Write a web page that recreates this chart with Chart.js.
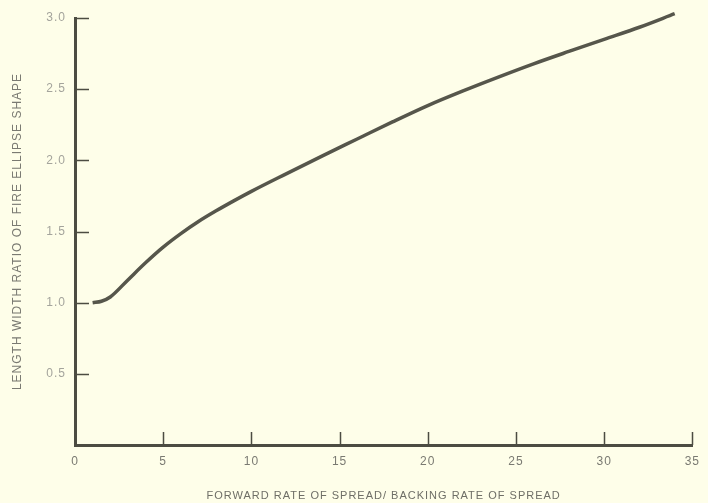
<!DOCTYPE html>
<html>
<head>
<meta charset="utf-8">
<script src="https://cdn.jsdelivr.net/npm/chart.js@4/dist/chart.umd.min.js"></script>
<style>
  html, body { margin: 0; padding: 0; background: #fefee9; }
  #wrap { width: 708px; height: 503px; }
</style>
</head>
<body>
<div id="wrap"><canvas id="c" width="708" height="503"></canvas></div>
<script>
// Ratio of forward to backing rate of spread
const spreadRatio = [1, 1.5, 2, 3, 4, 5, 6, 7, 8, 9, 10, 12, 14, 16, 18, 20, 22, 24, 26, 28, 30, 32, 34];
// Resulting length/width ratio of the fire ellipse
const lengthWidth = [1.00, 1.01, 1.04, 1.16, 1.28, 1.39, 1.485, 1.57, 1.645, 1.715, 1.782, 1.907, 2.03, 2.15, 2.27, 2.385, 2.488, 2.585, 2.678, 2.765, 2.85, 2.935, 3.03];
const xTicks = [0, 5, 10, 15, 20, 25, 30, 35];
const yTicks = [0.5, 1.0, 1.5, 2.0, 2.5, 3.0];
const yTickLabels = ['0.5', '1.0', '1.5', '2.0', '2.5', '3.0'];

const ink = '#4c4c42';

// Airy lettering used for all axis text
const spacedText = {
  id: 'spacedText',
  beforeInit(chart) { chart.ctx.letterSpacing = '1px'; },
  beforeDraw(chart) { chart.ctx.letterSpacing = '1px'; }
};

// Short tick marks drawn inward from both axes
const innerTicks = {
  id: 'innerTicks',
  afterDatasetsDraw(chart) {
    const { ctx, chartArea, scales } = chart;
    ctx.save();
    ctx.strokeStyle = ink;
    ctx.lineWidth = 1.5;
    ctx.beginPath();
    xTicks.forEach(v => {
      if (v === 0) return;
      const px = Math.round(scales.x.getPixelForValue(v)) + 0.5;
      ctx.moveTo(px, chartArea.bottom);
      ctx.lineTo(px, chartArea.bottom - 13);
    });
    yTicks.forEach(v => {
      const py = Math.round(scales.y.getPixelForValue(v)) + 0.5;
      ctx.moveTo(chartArea.left, py);
      ctx.lineTo(chartArea.left + 14, py);
    });
    ctx.stroke();
    ctx.restore();
  }
};

new Chart(document.getElementById('c'), {
  type: 'line',
  data: {
    datasets: [{
      data: spreadRatio.map((x, i) => ({ x, y: lengthWidth[i] })),
      borderColor: '#56564b',
      borderWidth: 3.5,
      pointRadius: 0,
      cubicInterpolationMode: 'monotone',
      clip: false,
      fill: false
    }]
  },
  options: {
    responsive: false,
    animation: false,
    layout: { padding: { top: 18, right: 10, left: 10, bottom: 0 } },
    plugins: { legend: { display: false }, tooltip: { enabled: false } },
    scales: {
      x: {
        type: 'linear',
        min: 0,
        max: 35,
        afterBuildTicks: s => { s.ticks = xTicks.map(v => ({ value: v })); },
        afterFit: s => { s.height = 58; },
        grid: { display: false, drawTicks: false },
        border: { display: true, color: ink, width: 3 },
        ticks: {
          color: '#7a7a72',
          padding: 9,
          maxRotation: 0,
          font: { family: 'Liberation Sans', size: 12 },
          callback: v => String(v)
        },
        title: {
          display: true,
          text: 'FORWARD RATE OF SPREAD/ BACKING RATE OF SPREAD',
          color: '#6e6e66',
          font: { family: 'Liberation Sans', size: 11 },
          padding: { top: 7, bottom: 0 }
        }
      },
      y: {
        type: 'linear',
        min: 0,
        max: 3.0,
        afterBuildTicks: s => { s.ticks = yTicks.map(v => ({ value: v })); },
        afterFit: s => { s.width = 65; },
        grid: { display: false, drawTicks: false },
        border: { display: true, color: ink, width: 3 },
        ticks: {
          color: '#a4a49c',
          padding: 9,
          font: { family: 'Liberation Sans', size: 12 },
          callback: v => yTickLabels[yTicks.indexOf(v)] ?? ''
        },
        title: {
          display: true,
          text: 'LENGTH WIDTH RATIO OF FIRE ELLIPSE SHAPE',
          color: '#7a7a72',
          font: { family: 'Liberation Sans', size: 12 },
          padding: { top: 0, bottom: 0 }
        }
      }
    }
  },
  plugins: [spacedText, innerTicks]
});
</script>
</body>
</html>
